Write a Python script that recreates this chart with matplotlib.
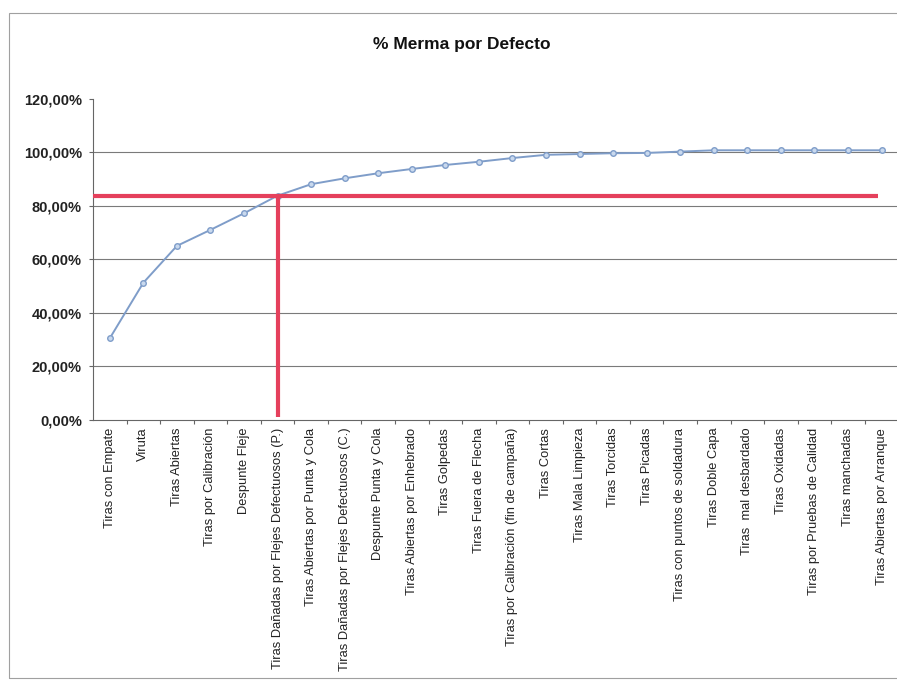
import matplotlib
matplotlib.use("Agg")
import matplotlib.pyplot as plt
from matplotlib.patches import Rectangle

plt.rcParams['font.family'] = ['Liberation Sans', 'DejaVu Sans']

categories = [
    "Tiras con Empate",
    "Viruta",
    "Tiras Abiertas",
    "Tiras por Calibración",
    "Despunte Fleje",
    "Tiras Dañadas por Flejes Defectuosos (P.)",
    "Tiras Abiertas por Punta y Cola",
    "Tiras Dañadas por Flejes Defectuosos (C.)",
    "Despunte Punta y Cola",
    "Tiras Abiertas por Enhebrado",
    "Tiras Golpedas",
    "Tiras Fuera de Flecha",
    "Tiras por Calibración (fin de campaña)",
    "Tiras Cortas",
    "Tiras Mala Limpieza",
    "Tiras Torcidas",
    "Tiras Picadas",
    "Tiras con puntos de soldadura",
    "Tiras Doble Capa",
    "Tiras  mal desbardado",
    "Tiras Oxidadas",
    "Tiras por Pruebas de Calidad",
    "Tiras manchadas",
    "Tiras Abiertas por Arranque",
]

# cumulative share of scrap per defect
cumulative = [
    0.304, 0.512, 0.650, 0.710, 0.772, 0.838, 0.881, 0.903, 0.922, 0.938,
    0.953, 0.965, 0.979, 0.991, 0.994, 0.997, 0.998, 1.003, 1.008, 1.008,
    1.008, 1.008, 1.008, 1.008,
]

y_ticks = [0.0, 0.2, 0.4, 0.6, 0.8, 1.0, 1.2]

# Pareto cut: level and the category where it is reached
cutoff_level = 0.837
cutoff_index = 5
cutoff_end = 22.9

W, H = 897, 681
fig = plt.figure(figsize=(W / 100, H / 100), dpi=100)
fig.patch.set_facecolor("white")

# chart-area border
fig.patches.append(Rectangle((9 / W, 1 - 678 / H), (905 - 9) / W, (678 - 13) / H,
                             transform=fig.transFigure, fill=False,
                             edgecolor="#a0a0a0", linewidth=0.8))

ax_left, ax_right = 93, 897
ax_top, ax_bottom = 99, 419.5
ax = fig.add_axes([ax_left / W, 1 - ax_bottom / H,
                   (ax_right - ax_left) / W, (ax_bottom - ax_top) / H])

x = list(range(len(categories)))

for v in y_ticks[1:-1]:
    ax.axhline(v, color="#7a7a7a", linewidth=0.8, zorder=1)

ax.plot(x, cumulative, color="#7f9dc9", linewidth=1.4, marker="o",
        markersize=4, markerfacecolor="#c9d9ee", markeredgecolor="#7f9dc9",
        markeredgewidth=1.0, zorder=3)

red = "#e5405c"
ax.plot([-0.5, cutoff_end], [cutoff_level, cutoff_level], color=red,
        linewidth=3.0, solid_capstyle="butt", zorder=4)
ax.plot([x[cutoff_index], x[cutoff_index]], [0.01, cutoff_level], color=red,
        linewidth=3.0, solid_capstyle="butt", zorder=4)

ax.set_xlim(-0.5, 23.46)
ax.set_ylim(0, 1.2)

ax.set_yticks(y_ticks)
ax.set_yticklabels([f"{v * 100:.2f}%".replace(".", ",") for v in y_ticks],
                   fontsize=10.5, fontweight="bold", color="#222222")
ax.tick_params(axis="y", direction="out", length=3, width=0.8, color="#666666", pad=5)

ax.set_xticks(x)
ax.set_xticklabels(categories, rotation=90, fontsize=9.3, color="#222222",
                   va="top", ha="center")
ax.set_xticks([i + 0.5 for i in x[:-1]], minor=True)
ax.tick_params(axis="x", which="major", length=0, pad=6)
ax.tick_params(axis="x", which="minor", direction="out", length=3, width=0.8,
               color="#666666")

for side in ("top", "right"):
    ax.spines[side].set_visible(False)
for side in ("left", "bottom"):
    ax.spines[side].set_color("#666666")
    ax.spines[side].set_linewidth(0.8)

fig.text(461.5 / W, 1 - 44 / H, "% Merma por Defecto", ha="center", va="center",
         fontsize=12.5, fontweight="bold", color="#111111")

fig.savefig("out.png", dpi=100, facecolor="white")
